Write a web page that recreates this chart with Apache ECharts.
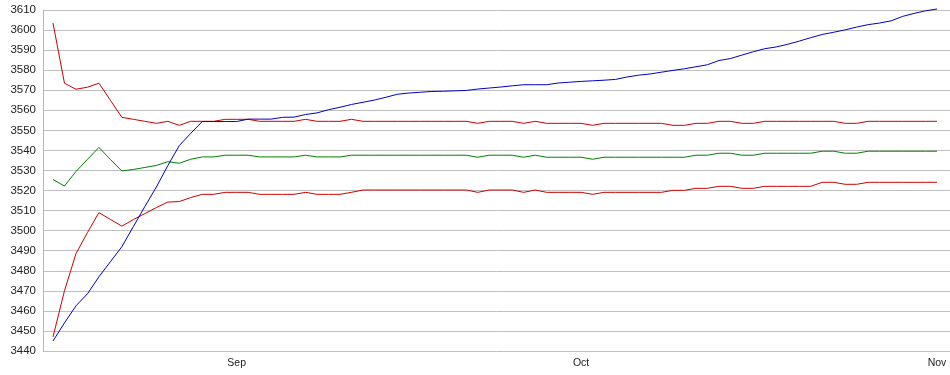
<!DOCTYPE html>
<html>
<head>
<meta charset="utf-8">
<script src="https://cdn.jsdelivr.net/npm/echarts@6/dist/echarts.min.js"></script>
<style>
html,body{margin:0;padding:0;background:#fff;}
#chart{width:950px;height:375px;}
</style>
</head>
<body>
<div id="chart"></div>
<script>
// ---- data ----
const startDate = '2023-08-16';           // first daily observation
const tickDates = ['2023-09-01', '2023-10-01', '2023-11-01'];
const tickLabels = ['Sep', 'Oct', 'Nov'];
const yTicks = [3440, 3610, 10];          // min, max, step

const upperBand = [
  3603.5,3573.5,3570.5,3571.5,3573.5,3565,3556.5,3555.5,3554.5,3553.5,
  3554.5,3552.5,3554.5,3554.5,3554.5,3555.5,3555.5,3555.5,3554.5,3554.5,
  3554.5,3554.5,3555.5,3554.5,3554.5,3554.5,3555.5,3554.5,3554.5,3554.5,
  3554.5,3554.5,3554.5,3554.5,3554.5,3554.5,3554.5,3553.5,3554.5,3554.5,
  3554.5,3553.5,3554.5,3553.5,3553.5,3553.5,3553.5,3552.5,3553.5,3553.5,
  3553.5,3553.5,3553.5,3553.5,3552.5,3552.5,3553.5,3553.5,3554.5,3554.5,
  3553.5,3553.5,3554.5,3554.5,3554.5,3554.5,3554.5,3554.5,3554.5,3553.5,
  3553.5,3554.5,3554.5,3554.5,3554.5,3554.5,3554.5,3554.5
];
const middleBand = [
  3525.5,3522.25,3529.5,3535.5,3541.5,3535.5,3529.75,3530.5,3531.5,3532.5,
  3534.4,3533.6,3535.6,3536.75,3536.75,3537.6,3537.6,3537.6,3536.75,3536.75,
  3536.75,3536.75,3537.6,3536.75,3536.75,3536.75,3537.6,3537.6,3537.6,3537.6,
  3537.6,3537.6,3537.6,3537.6,3537.6,3537.6,3537.6,3536.6,3537.6,3537.6,
  3537.6,3536.6,3537.6,3536.6,3536.6,3536.6,3536.6,3535.6,3536.6,3536.6,
  3536.6,3536.6,3536.6,3536.6,3536.6,3536.6,3537.6,3537.6,3538.6,3538.6,
  3537.6,3537.6,3538.6,3538.6,3538.6,3538.6,3538.6,3539.6,3539.6,3538.6,
  3538.6,3539.6,3539.6,3539.6,3539.6,3539.6,3539.6,3539.6
];
const lowerBand = [
  3447,3470,3488.5,3499,3509,3505.6,3502.25,3505.5,3508.5,3511.5,
  3514.25,3514.5,3516.5,3518.1,3518.1,3519.1,3519.1,3519.1,3518.1,3518.1,
  3518.1,3518.1,3519.1,3518.1,3518.1,3518.1,3519.1,3520.25,3520.25,3520.25,
  3520.25,3520.25,3520.25,3520.25,3520.25,3520.25,3520.25,3519.1,3520.25,3520.25,
  3520.25,3519.1,3520.25,3519.1,3519.1,3519.1,3519.1,3518.1,3519.1,3519.1,
  3519.1,3519.1,3519.1,3519.1,3520.1,3520.1,3521.1,3521.1,3522.1,3522.1,
  3521.1,3521.1,3522.1,3522.1,3522.1,3522.1,3522.1,3524.1,3524.1,3523.1,
  3523.1,3524.1,3524.1,3524.1,3524.1,3524.1,3524.1,3524.1
];
const price = [
  3445,3454,3462.5,3468.5,3477,3484.5,3492,3502,3512,3521.7,
  3532.4,3542.4,3548.5,3554.4,3554.4,3554.4,3554.4,3555.6,3555.6,3555.6,
  3556.5,3556.6,3557.9,3558.7,3560.3,3561.5,3562.9,3564,3565.1,3566.5,
  3568,3568.6,3569,3569.4,3569.5,3569.7,3569.9,3570.6,3571.1,3571.6,
  3572.2,3572.75,3572.75,3572.75,3573.6,3574,3574.4,3574.7,3575,3575.4,
  3576.6,3577.5,3578.1,3579,3579.9,3580.7,3581.7,3582.7,3584.8,3585.8,
  3587.5,3589.2,3590.7,3591.6,3592.9,3594.5,3596.2,3597.8,3598.9,3600.1,
  3601.5,3602.7,3603.5,3604.6,3606.8,3608.3,3609.6,3610.5
];

// ---- build ----
const DAY = 86400000;
const t0 = Date.parse(startDate + 'T00:00:00Z');
const dates = price.map((_, i) => t0 + i * DAY);
const pair = arr => arr.map((v, i) => [dates[i], v]);
const tickTimes = tickDates.map(d => Date.parse(d + 'T00:00:00Z'));

const chart = echarts.init(document.getElementById('chart'), null, {renderer: 'canvas'});
const lineStyle = c => ({color: c, width: 1});
chart.setOption({
  animation: false,
  backgroundColor: '#ffffff',
  grid: {left: 43, right: 0, top: 10, bottom: 24, containLabel: false},
  xAxis: {
    type: 'value',
    min: t0 - 0.87 * DAY,
    max: t0 + 78.13 * DAY,
    axisLine: {show: false},
    axisTick: {show: false},
    splitLine: {show: false},
    axisLabel: {
      customValues: tickTimes,
      formatter: v => {
        const i = tickTimes.findIndex(t => Math.abs(t - v) < DAY / 2);
        return i >= 0 ? tickLabels[i] : '';
      },
      color: '#222',
      fontFamily: '"Liberation Sans Narrow", "Arial Narrow", "Liberation Sans", sans-serif',
      fontSize: 10.5,
      margin: 7,
      hideOverlap: false
    }
  },
  yAxis: {
    type: 'value',
    min: yTicks[0],
    max: yTicks[1],
    interval: yTicks[2],
    axisLine: {show: true, lineStyle: {color: '#b4b4b4', width: 1}},
    axisTick: {show: false},
    splitLine: {lineStyle: {color: '#c0c0c0', width: 1}},
    axisLabel: {
      formatter: v => String(v),
      color: '#222',
      fontFamily: '"Liberation Sans", Arial, sans-serif',
      fontSize: 11.5,
      margin: 7
    }
  },
  series: [
    {type: 'line', data: pair(upperBand), showSymbol: false, symbol: 'none', lineStyle: lineStyle('#cc0000'), clip: false, z: 2},
    {type: 'line', data: pair(middleBand), showSymbol: false, symbol: 'none', lineStyle: lineStyle('#008000'), clip: false, z: 2},
    {type: 'line', data: pair(lowerBand), showSymbol: false, symbol: 'none', lineStyle: lineStyle('#cc0000'), clip: false, z: 2},
    {type: 'line', data: pair(price), showSymbol: false, symbol: 'none', lineStyle: lineStyle('#0000cc'), clip: false, z: 3}
  ]
});
</script>
</body>
</html>
